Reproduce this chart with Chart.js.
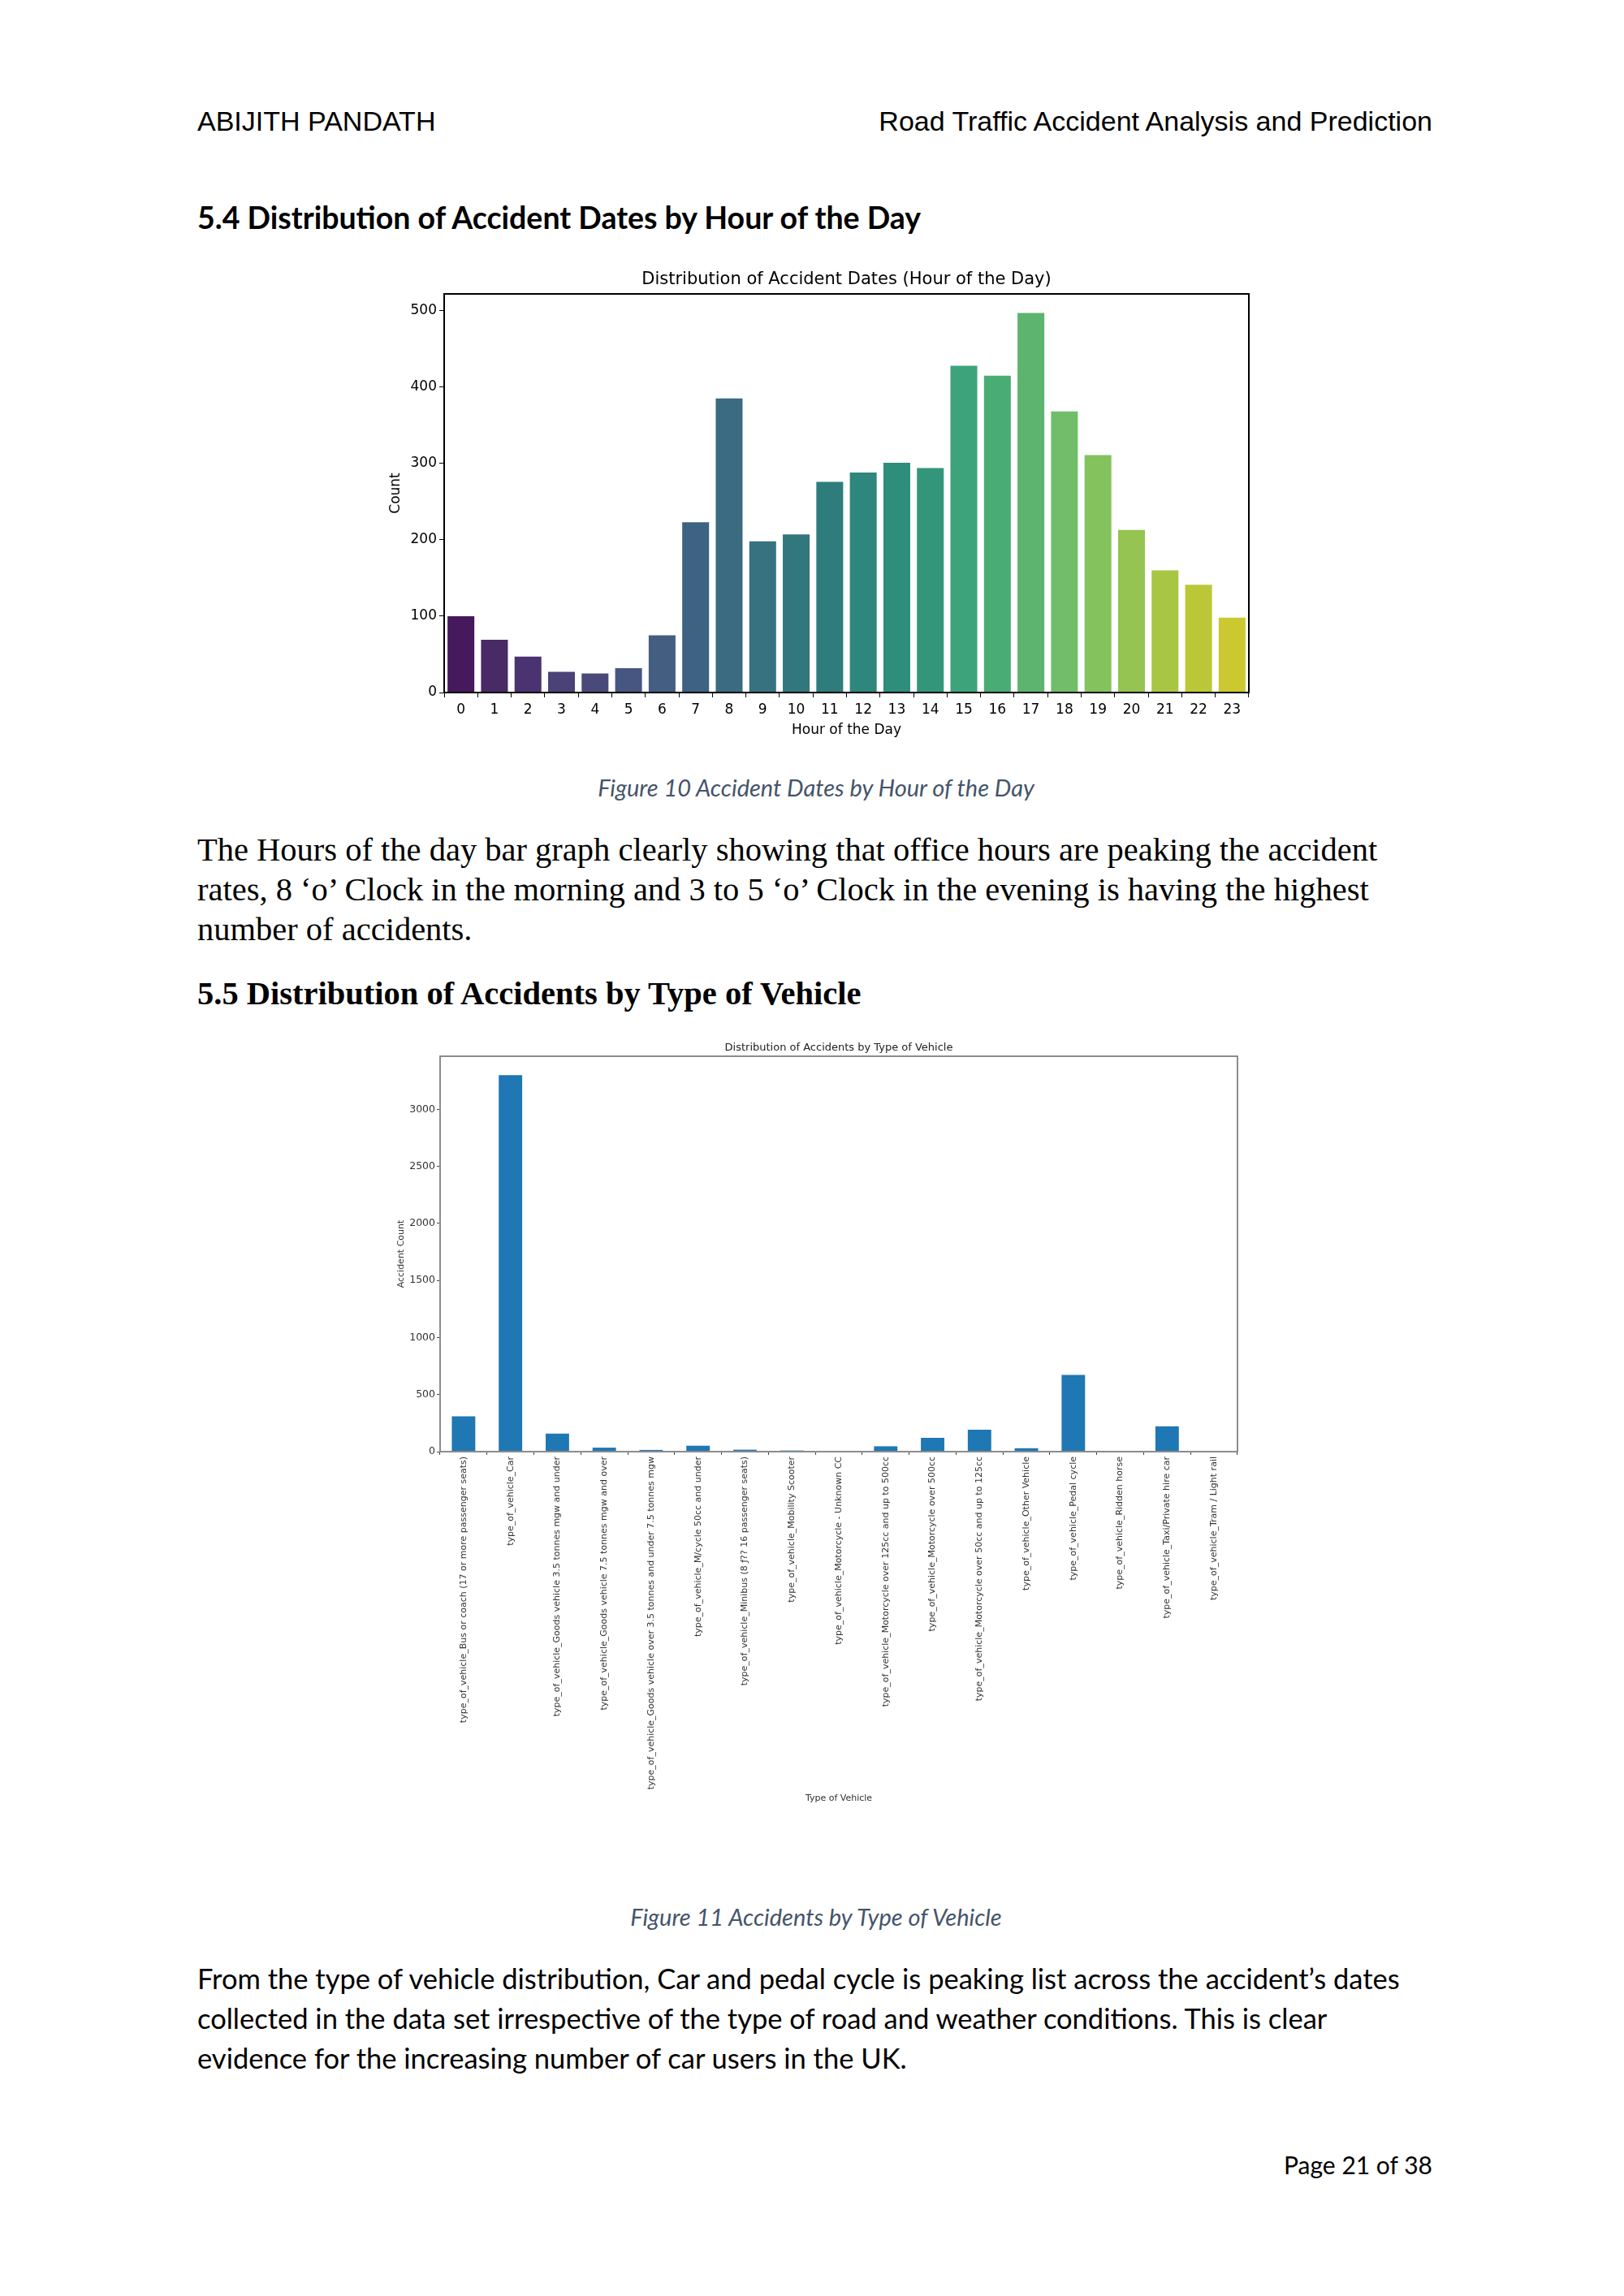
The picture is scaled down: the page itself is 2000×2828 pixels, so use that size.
<!DOCTYPE html>
<html>
<head>
<meta charset="utf-8">
<script src="https://cdn.jsdelivr.net/npm/chart.js@4.4.1/dist/chart.umd.min.js"></script>
<style>
  html, body { margin: 0; padding: 0; background: #fff; }
  #page { position: relative; width: 2000px; height: 2828px; background: #fff; color: #000; overflow: hidden; }
  .t { position: absolute; white-space: nowrap; }
  .hdr { font-family: "Liberation Sans", Arial, sans-serif; font-size: 34px; line-height: 34px; }
  .h1 { font-family: Lato, sans-serif; font-weight: bold; font-size: 37.5px; line-height: 37.5px; }
  .cap { font-family: Lato, sans-serif; font-style: italic; font-size: 29px; line-height: 29px; color: #44546a; left: 0; width: 2010px; text-align: center; }
  .serif { font-family: "Liberation Serif", "Times New Roman", serif; font-size: 40.5px; }
  .sans { font-family: Lato, sans-serif; font-size: 34.5px; }
  .box { position: absolute; }
</style>
</head>
<body>
<div id="page">
  <div class="t hdr" style="left:243px; top:132px;">ABIJITH PANDATH</div>
  <div class="t hdr" style="right:236px; top:132px;">Road Traffic Accident Analysis and Prediction</div>

  <div class="t h1" style="left:243px; top:249px;">5.4 Distribution of Accident Dates by Hour of the Day</div>

  <div class="box" style="left:440px; top:318px; width:1110px; height:600px;">
    <canvas id="hourChart" width="1110" height="600"></canvas>
  </div>

  <div class="t cap" style="top:955px;">Figure 10 Accident Dates by Hour of the Day</div>

  <div class="t serif" style="left:243px; top:1022px; line-height:49px;">
    The Hours of the day bar graph clearly showing that office hours are peaking the accident<br>
    rates, 8 ‘o’ Clock in the morning and 3 to 5 ‘o’ Clock in the evening is having the highest<br>
    number of accidents.
  </div>

  <div class="t serif" style="left:243px; top:1204px; line-height:40.5px; font-weight:bold;">5.5 Distribution of Accidents by Type of Vehicle</div>

  <div class="box" style="left:440px; top:1262px; width:1100px; height:978px;">
    <canvas id="vehicleChart" width="1100" height="978"></canvas>
  </div>

  <div class="t cap" style="top:2346px;">Figure 11 Accidents by Type of Vehicle</div>

  <div class="t sans" style="left:243px; top:2412px; line-height:49px;">
    From the type of vehicle distribution, Car and pedal cycle is peaking list across the accident’s dates<br>
    collected in the data set irrespective of the type of road and weather conditions. This is clear<br>
    evidence for the increasing number of car users in the UK.
  </div>

  <div class="t sans" style="right:236px; top:2651px; line-height:30px; font-size:30px;">Page 21 of 38</div>
</div>

<script>
// --- Figure 10: accidents by hour of the day ---
const hours = ['0','1','2','3','4','5','6','7','8','9','10','11','12','13','14','15','16','17','18','19','20','21','22','23'];
const hourCounts = [100, 69, 47, 27, 25, 32, 75, 223, 385, 198, 207, 276, 288, 301, 294, 428, 415, 497, 368, 311, 213, 160, 141, 98];
const hourTicks = [0, 100, 200, 300, 400, 500];

// viridis, desaturated the way seaborn draws it
const hourColors = [
  '#45195b', '#482a64', '#4a3370', '#4b4278', '#4a4a7a', '#475680',
  '#445e82', '#3e6282', '#3a6b80', '#36727f', '#33777e', '#2f7c7c',
  '#2e867c', '#2e8d7b', '#33967b', '#3da37b', '#4aac75', '#5cb46e',
  '#71bd6a', '#84c25e', '#95c452', '#a8c544', '#bbc737', '#cbc92f'
];

// --- Figure 11: accidents by type of vehicle ---
const vehicleTypes = [
  'type_of_vehicle_Bus or coach (17 or more passenger seats)',
  'type_of_vehicle_Car',
  'type_of_vehicle_Goods vehicle 3.5 tonnes mgw and under',
  'type_of_vehicle_Goods vehicle 7.5 tonnes mgw and over',
  'type_of_vehicle_Goods vehicle over 3.5 tonnes and under 7.5 tonnes mgw',
  'type_of_vehicle_M/cycle 50cc and under',
  'type_of_vehicle_Minibus (8 ƒ?? 16 passenger seats)',
  'type_of_vehicle_Mobility Scooter',
  'type_of_vehicle_Motorcycle - Unknown CC',
  'type_of_vehicle_Motorcycle over 125cc and up to 500cc',
  'type_of_vehicle_Motorcycle over 500cc',
  'type_of_vehicle_Motorcycle over 50cc and up to 125cc',
  'type_of_vehicle_Other Vehicle',
  'type_of_vehicle_Pedal cycle',
  'type_of_vehicle_Ridden horse',
  'type_of_vehicle_Taxi/Private hire car',
  'type_of_vehicle_Tram / Light rail'
];
const vehicleCounts = [310, 3300, 158, 35, 15, 52, 17, 10, 2, 47, 121, 192, 30, 673, 1, 222, 1];
const vehicleTicks = [0, 500, 1000, 1500, 2000, 2500, 3000];

// box round the plot area, like the matplotlib spines
const framePlugin = {
  id: 'frame',
  afterDraw(chart, args, opts) {
    const { ctx, chartArea: a } = chart;
    ctx.save();
    ctx.strokeStyle = opts.color;
    ctx.lineWidth = opts.width;
    ctx.strokeRect(a.left, a.top, a.right - a.left, a.bottom - a.top);
    ctx.restore();
  }
};

// title centred over the plot area instead of the whole canvas
const axesTitle = {
  id: 'axesTitle',
  afterDraw(chart, args, opts) {
    const { ctx, chartArea: a } = chart;
    ctx.save();
    ctx.font = opts.font;
    ctx.fillStyle = opts.color;
    ctx.textAlign = 'center';
    ctx.textBaseline = 'middle';
    ctx.fillText(opts.text, (a.left + a.right) / 2, opts.y);
    ctx.restore();
  }
};

Chart.defaults.font.family = "'DejaVu Sans', sans-serif";
Chart.defaults.color = '#000';

new Chart(document.getElementById('hourChart').getContext('2d'), {
  type: 'bar',
  data: {
    labels: hours,
    datasets: [{
      label: 'Count',
      data: hourCounts,
      backgroundColor: hourColors,
      borderWidth: 0,
      barPercentage: 0.8,
      categoryPercentage: 1.0
    }]
  },
  options: {
    responsive: false,
    animation: false,
    layout: { padding: { left: 0, right: 12, top: 44, bottom: 0 } },
    plugins: {
      legend: { display: false },
      tooltip: { enabled: false },
      title: { display: false },
      axesTitle: { text: 'Distribution of Accident Dates (Hour of the Day)', font: "21px 'DejaVu Sans'", color: '#000', y: 27 },
      frame: { color: '#000', width: 2 }
    },
    scales: {
      x: {
        grid: { display: true, drawOnChartArea: false, drawTicks: true, tickLength: 6, color: '#000' },
        border: { display: false },
        ticks: { font: { size: 17 }, padding: 5, maxRotation: 0, autoSkip: false },
        title: { display: true, text: 'Hour of the Day', font: { size: 17 }, padding: { top: 2, bottom: 8 } },
        afterFit: s => { s.height = 65; }
      },
      y: {
        min: 0,
        max: 522,
        afterBuildTicks: s => { s.ticks = hourTicks.map(v => ({ value: v })); },
        grid: { display: true, drawOnChartArea: false, drawTicks: true, tickLength: 6, color: '#000' },
        border: { display: false },
        ticks: { font: { size: 17 }, padding: 3, callback: v => String(v) },
        title: { display: true, text: 'Count', font: { size: 17 }, padding: { top: 37, bottom: 0 } },
        afterFit: s => { s.width = 107; }
      }
    }
  },
  plugins: [framePlugin, axesTitle]
});

new Chart(document.getElementById('vehicleChart').getContext('2d'), {
  type: 'bar',
  data: {
    labels: vehicleTypes,
    datasets: [{
      label: 'Accident Count',
      data: vehicleCounts,
      backgroundColor: '#1f77b4',
      borderWidth: 0,
      barPercentage: 0.5,
      categoryPercentage: 1.0
    }]
  },
  options: {
    responsive: false,
    animation: false,
    layout: { padding: { left: 0, right: 16, top: 39, bottom: 0 } },
    plugins: {
      legend: { display: false },
      tooltip: { enabled: false },
      title: { display: false },
      axesTitle: { text: 'Distribution of Accidents by Type of Vehicle', font: "13px 'DejaVu Sans'", color: '#222', y: 29 },
      frame: { color: '#8c8c8c', width: 2 }
    },
    scales: {
      x: {
        grid: { display: true, drawOnChartArea: false, drawTicks: true, tickLength: 4, color: '#444' },
        border: { display: false },
        ticks: { font: { size: 11 }, color: '#333', padding: 2, minRotation: 90, maxRotation: 90, autoSkip: false },
        title: { display: true, text: 'Type of Vehicle', font: { size: 11 }, color: '#333', padding: { top: 2, bottom: 18 } },
        afterFit: s => { s.height = 452; }
      },
      y: {
        min: 0,
        max: 3465,
        afterBuildTicks: s => { s.ticks = vehicleTicks.map(v => ({ value: v })); },
        grid: { display: true, drawOnChartArea: false, drawTicks: true, tickLength: 4, color: '#444' },
        border: { display: false },
        ticks: { font: { size: 12.5 }, color: '#333', padding: 2, callback: v => String(v) },
        title: { display: true, text: 'Accident Count', font: { size: 11 }, color: '#333', padding: { top: 48, bottom: 0 } },
        afterFit: s => { s.width = 102; }
      }
    }
  },
  plugins: [framePlugin, axesTitle]
});
</script>
</body>
</html>
